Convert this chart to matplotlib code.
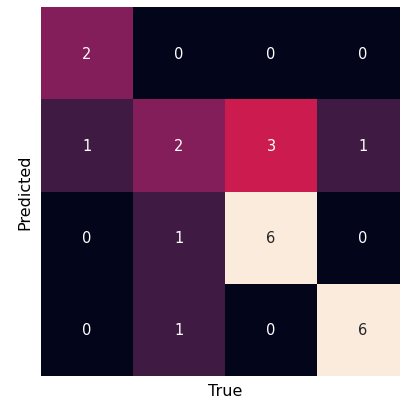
import numpy as np
import matplotlib
matplotlib.use("Agg")
import matplotlib.pyplot as plt
import seaborn as sns

# confusion matrix counts (rows = predicted, cols = true)
matriz = np.array([
    [2, 0, 0, 0],
    [1, 2, 3, 1],
    [0, 1, 6, 0],
    [0, 1, 0, 6],
])

fig = plt.figure(figsize=(4.0, 4.02), dpi=100)
ax = fig.add_axes([0.1025, 0.062, 0.92, 0.918])

sns.heatmap(matriz, annot=True, fmt="d", cmap="rocket", cbar=False,
            xticklabels=False, yticklabels=False, ax=ax,
            annot_kws={"fontsize": 10.5})

ax.set_xlabel("True", fontsize=11.5, labelpad=5)
ax.set_ylabel("Predicted", fontsize=11.5, labelpad=6)
ax.tick_params(length=0)

fig.savefig("out.png", dpi=100)
